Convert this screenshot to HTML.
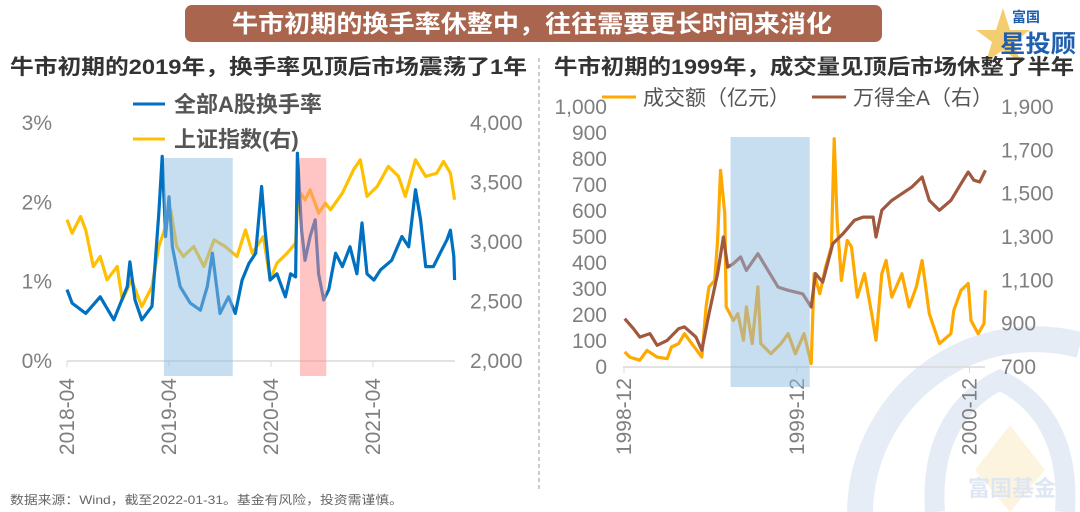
<!DOCTYPE html>
<html><head><meta charset="utf-8">
<style>
html,body{margin:0;padding:0;background:#fff;}
svg{display:block;font-family:"Liberation Sans","Noto Sans CJK SC",sans-serif;}
</style></head>
<body>
<svg id="c" width="1080" height="512" viewBox="0 0 1080 512">
  <g opacity="0.55">
    <path d="M860 512 A175 175 0 0 1 1080 345" fill="none" stroke="#d3deef" stroke-width="26"/>
    <path d="M935 512 C930 440 960 400 1000 380 C1040 400 1070 440 1065 512" fill="none" stroke="#d3deef" stroke-width="20"/>
    <polygon points="1010,425 1045,470 1010,512 975,470" fill="#fbecc4"/>
    <text x="1012" y="496" font-size="22" font-weight="bold" fill="#c5d3ea" text-anchor="middle">富国基金</text>
  </g>
  <rect x="185" y="5" width="697" height="37" rx="7" fill="#a9654e"/>
  <text x="532" y="32" font-size="24" font-weight="bold" fill="#fff" text-anchor="middle" textLength="600" lengthAdjust="spacingAndGlyphs">牛市初期的换手率休整中，往往需要更长时间来消化</text>
  <g>
    <polygon points="1003,8 1010,30 1030,30 1014,42 1020,62 1003,50 986,62 992,42 976,30 996,30" fill="#f2c14e" opacity="0.8"/>
    <text x="1012" y="22" font-size="14" font-weight="bold" fill="#1f5fae">富国</text>
    <text x="1000" y="52" font-size="24" font-weight="bold" fill="#1f5fae" textLength="76" lengthAdjust="spacingAndGlyphs">星投顾</text>
  </g>
  <text x="10" y="74" font-size="21" font-weight="bold" fill="#333" textLength="517" lengthAdjust="spacingAndGlyphs">牛市初期的2019年，换手率见顶后市场震荡了1年</text>
  <text x="554" y="74" font-size="21" font-weight="bold" fill="#333" textLength="520" lengthAdjust="spacingAndGlyphs">牛市初期的1999年，成交量见顶后市场休整了半年</text>
  <line x1="539" y1="58" x2="539" y2="492" stroke="#bbb" stroke-width="1.5" stroke-dasharray="4,3"/>
  <text x="10" y="504" font-size="12" fill="#666" textLength="393" lengthAdjust="spacingAndGlyphs">数据来源：Wind，截至2022-01-31。基金有风险，投资需谨慎。</text>
  <g id="L"></g>
  <g id="R"></g>
</svg>
<script>
const turnMonths=[0,0.6,2.2,3.9,5.5,7.1,7.4,8,8.8,10,10.8,11.2,11.6,12,12.4,13.3,14.5,15.7,16.5,17.1,18,19,19.8,20.6,21.4,22.2,22.9,23.3,23.9,24.7,25.7,26.3,26.9,27.1,27.6,28,28.6,29.2,29.6,30.2,30.8,31.6,32.4,33.3,34.1,34.7,35.3,36.1,36.9,38.2,39.4,40.2,41,41.6,42.2,43.1,43.9,44.7,45.1,45.5,45.6];
const turnValues=[0.9,0.73,0.6,0.81,0.52,0.94,1.25,0.77,0.52,0.69,1.86,2.58,1.57,2.07,1.44,0.94,0.73,0.64,0.94,1.36,0.6,0.81,0.6,1.02,1.23,1.36,2.2,1.65,1.02,1.1,0.81,1.1,1.06,2.62,1.65,1.27,1.57,1.78,1.1,0.77,0.9,1.36,1.19,1.44,1.1,1.74,1.1,1.02,1.15,1.27,1.57,1.44,2.16,1.78,1.19,1.19,1.36,1.53,1.65,1.32,1.02];
const idxMonths=[0,0.6,1.6,2.2,3.1,3.9,4.7,5.9,6.5,7.6,8.8,10,10.8,11.6,12.2,12.9,13.7,14.9,16.1,17.3,18.6,20,21,21.8,23.1,23.9,24.7,25.9,26.9,27.2,28,28.6,29.6,30.4,31,32.4,33.7,34.5,35.3,36.5,37.8,39,39.8,41,42.2,43.5,44.3,45.1,45.6];
const idxValues=[3187,3074,3214,3102,2794,2878,2682,2794,2513,2682,2457,2626,2962,3130,3271,2962,2878,2962,2794,3018,2962,2878,3102,2906,3046,2682,2822,2906,2990,3439,3355,3439,3243,3327,3271,3411,3607,3691,3383,3467,3635,3551,3383,3691,3551,3579,3677,3579,3355];
const leftTicksY=["0%","1%","2%","3%"];
const rightTicksY=["2,000","2,500","3,000","3,500","4,000"];
const leftTicksX=["2018-04","2019-04","2020-04","2021-04"];
const leftTickXMonths=[0,12,24,36];
const leftBands=[[11.4,19.5,"blue"],[27.4,30.5,"red"]];

const volMonths=[0.05,0.4,1.1,1.6,2.3,3,3.3,3.8,4.2,4.7,5.4,5.7,5.9,6.3,6.5,6.7,7,7.1,7.6,7.9,8.3,8.5,8.9,9.3,9.5,10.2,10.9,11.4,11.9,12.5,13,13.2,13.6,14,14.4,14.6,14.8,15.1,15.5,15.8,16.2,16.7,17.2,17.5,17.9,18.2,18.6,19.3,19.8,20.3,20.7,21.2,21.9,22.7,22.9,23.4,23.9,24.1,24.6,25,25.1];
const volValues=[58,38,26,64,38,32,77,90,128,90,38,231,308,333,487,756,590,231,179,205,103,231,90,308,90,51,90,128,51,128,13,359,282,385,462,878,564,333,487,462,269,359,205,103,359,410,269,359,231,308,410,205,90,128,218,295,321,179,128,167,295];
const wdMonths=[0.05,0.65,1.1,1.8,2.3,3,3.8,4.2,5,5.4,5.9,6.5,6.9,7.2,7.6,8.1,8.5,9.3,10,10.7,11.4,12.4,13,13.3,13.8,14.5,15.2,16,16.6,17.3,17.5,17.9,18.6,19.3,20,20.7,21.2,21.9,22.7,23.4,23.9,24.3,24.7,25.1];
const wdValues=[923,877,838,854,800,823,877,885,838,777,946,1131,1300,1161,1177,1208,1146,1223,1146,1069,1054,1038,977,1131,1092,1269,1315,1377,1392,1392,1300,1423,1469,1500,1531,1577,1469,1423,1469,1546,1600,1562,1554,1608];
const rLeftTicks=["0","100","200","300","400","500","600","700","800","900","1,000"];
const rRightTicks=["700","900","1,100","1,300","1,500","1,700","1,900"];
const rTicksX=["1998-12","1999-12","2000-12"];
const rTickXMonths=[0,12,24];
const rBands=[[7.4,12.9,"blue"]];

const NS="http://www.w3.org/2000/svg";
function mk(parent,tag,attrs){const e=document.createElementNS(NS,tag);for(const k in attrs)e.setAttribute(k,attrs[k]);parent.appendChild(e);return e;}
function pathFrom(xs,ys,fx,fy){return xs.map((m,i)=>(i?"L":"M")+fx(m).toFixed(1)+" "+fy(ys[i]).toFixed(1)).join(" ");}

(function(){
  const g=document.getElementById('L');
  const x=m=>67+m*8.5;
  const yL=v=>361-v*79.3;
  const yR=v=>361-(v-2000)*0.119;
  const ax=mk(g,'line',{x1:67,y1:361,x2:455,y2:361,stroke:'#d9d9d9','stroke-width':1.5});
  
  
  leftTicksY.forEach((t,i)=>{const e=mk(g,'text',{x:52,y:yL(i)+7,'font-size':21,fill:'#7f7f7f','text-anchor':'end'});e.textContent=t;
    
    });
  rightTicksY.forEach((t,i)=>{const e=mk(g,'text',{x:470,y:yR(2000+i*500)+7,'font-size':21,fill:'#7f7f7f'});e.textContent=t;
    
    });
  leftTicksX.forEach((t,i)=>{const px=x(leftTickXMonths[i]);
    mk(g,'line',{x1:px,y1:361,x2:px,y2:367,stroke:'#d9d9d9','stroke-width':1});
    const e=mk(g,'text',{x:0,y:0,'font-size':21,fill:'#7f7f7f','text-anchor':'end',transform:`translate(${px+7},378) rotate(-90)`});e.textContent=t;
    
    });
  const p1=mk(g,'path',{d:pathFrom(idxMonths,idxValues,x,yR),fill:'none',stroke:'#ffc000','stroke-width':3.2,'stroke-linejoin':'round'});
  
  
  const p2=mk(g,'path',{d:pathFrom(turnMonths,turnValues,x,yL),fill:'none',stroke:'#0070c0','stroke-width':3.2,'stroke-linejoin':'round'});
  
  
  leftBands.forEach(b=>{const r=mk(g,'rect',{x:x(b[0]),y:158,width:x(b[1])-x(b[0]),height:218,fill:b[2]=='blue'?'#8fbbe2':'#ff8c8c',opacity:0.5});
    
    });
  const l1=mk(g,'line',{x1:133,y1:104,x2:165,y2:104,stroke:'#0070c0','stroke-width':3});
  
  
  const t1=mk(g,'text',{x:174,y:112,'font-size':22,'font-weight':'bold',fill:'#555'});t1.textContent='全部A股换手率';
  
  
  const l2=mk(g,'line',{x1:133,y1:139,x2:165,y2:139,stroke:'#ffc000','stroke-width':3});
  
  
  const t2=mk(g,'text',{x:174,y:147,'font-size':22,'font-weight':'bold',fill:'#555'});t2.textContent='上证指数(右)';
  
  
})();

(function(){
  const g=document.getElementById('R');
  const x=m=>624+m*14.4;
  const yL=v=>367-v*0.26;
  const yR=v=>367-(v-700)*(260/1200);
  const ax=mk(g,'line',{x1:623,y1:367,x2:985,y2:367,stroke:'#d9d9d9','stroke-width':1.5});
  
  
  rLeftTicks.forEach((t,i)=>{const e=mk(g,'text',{x:607,y:yL(i*100)+7,'font-size':21,fill:'#7f7f7f','text-anchor':'end'});e.textContent=t;
    
    });
  rRightTicks.forEach((t,i)=>{const e=mk(g,'text',{x:1001,y:yR(700+i*200)+7,'font-size':21,fill:'#7f7f7f'});e.textContent=t;
    
    });
  rTicksX.forEach((t,i)=>{const px=x(rTickXMonths[i]);
    mk(g,'line',{x1:px,y1:367,x2:px,y2:373,stroke:'#d9d9d9','stroke-width':1});
    const e=mk(g,'text',{x:0,y:0,'font-size':21,fill:'#7f7f7f','text-anchor':'end',transform:`translate(${px+7},378) rotate(-90)`});e.textContent=t;
    
    });
  const p1=mk(g,'path',{d:pathFrom(volMonths,volValues,x,yL),fill:'none',stroke:'#ffa800','stroke-width':3.2,'stroke-linejoin':'round'});
  
  
  const p2=mk(g,'path',{d:pathFrom(wdMonths,wdValues,x,yR),fill:'none',stroke:'#a0583e','stroke-width':3.2,'stroke-linejoin':'round'});
  
  
  rBands.forEach(b=>{const r=mk(g,'rect',{x:x(b[0]),y:137,width:x(b[1])-x(b[0]),height:250,fill:'#8fbbe2',opacity:0.5});
    
    });
  const l1=mk(g,'line',{x1:602,y1:97,x2:636,y2:97,stroke:'#ffa800','stroke-width':3});
  
  
  const t1=mk(g,'text',{x:643,y:105,'font-size':21,fill:'#555'});t1.textContent='成交额（亿元）';
  
  
  const l2=mk(g,'line',{x1:812,y1:97,x2:846,y2:97,stroke:'#a0583e','stroke-width':3});
  
  
  const t2=mk(g,'text',{x:853,y:105,'font-size':21,fill:'#555'});t2.textContent='万得全A（右）';
  
  
})();
</script>
</body></html>
